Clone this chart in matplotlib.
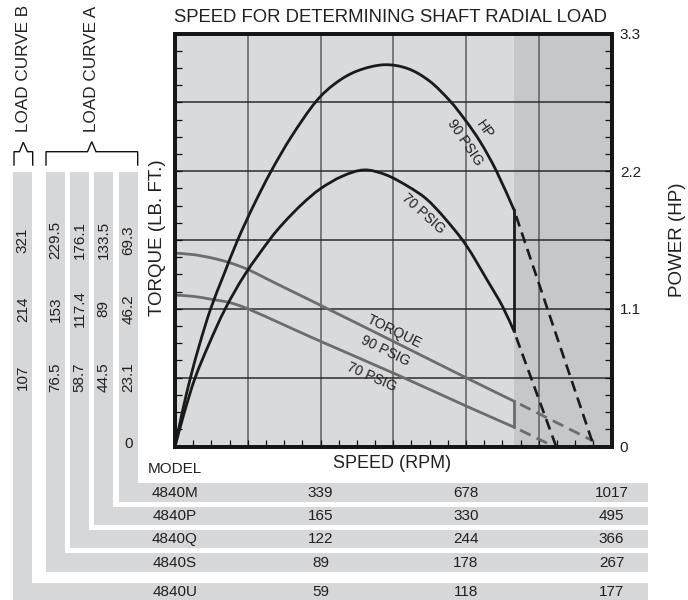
import numpy as np
import matplotlib
matplotlib.use('Agg')
import matplotlib.pyplot as plt
from matplotlib import transforms
from matplotlib.patches import Rectangle, PathPatch
from matplotlib.path import Path
from matplotlib.ticker import MultipleLocator, FixedLocator

plt.rcParams['font.family'] = ['Liberation Sans', 'DejaVu Sans']

# ---------------- data ----------------
title = "SPEED FOR DETERMINING SHAFT RADIAL LOAD"
speed_max = 1017          # 4840M rpm at right edge
speed_step = 169.5        # rpm per grid column (4840M)
torque_step = 23.1        # lb.ft per grid row (4840M)
hp_max = 3.3
hp_ticks = [0, 1.1, 2.2, 3.3]
hp_tick_labels = ['0', '1.1', '2.2', '3.3']

hp90_speed = [0, 17, 36, 58, 83, 114, 146, 183, 224, 271, 327, 373, 424, 486, 542, 593, 641, 678, 712, 749, 790]
hp90_hp = [0, 0.275, 0.55, 0.825, 1.10, 1.375, 1.65, 1.925, 2.20, 2.475, 2.75, 2.90, 3.00, 3.05, 3.02, 2.92, 2.76, 2.60, 2.43, 2.20, 1.89]
hp70_speed = [0, 22, 47, 80, 117, 163, 220, 254, 297, 339, 390, 441, 492, 542, 585, 627, 678, 729, 763, 790]
hp70_hp = [0, 0.275, 0.55, 0.825, 1.10, 1.375, 1.65, 1.79, 1.94, 2.06, 2.16, 2.21, 2.17, 2.08, 1.98, 1.83, 1.61, 1.32, 1.12, 0.92]
tq90_speed = [0, 42, 85, 127, 170, 212, 254, 339, 514, 678, 790]
tq90 = [64.9, 64.4, 63.3, 61.7, 59.4, 56.4, 53.4, 47.4, 34.9, 23.1, 15.2]
tq70_speed = [0, 42, 85, 127, 170, 254, 339, 514, 678, 790]
tq70 = [50.8, 50.4, 49.4, 48.3, 46.2, 40.8, 35.3, 24.3, 13.6, 6.5]

hp90_ext_speed = [790, 976]
hp90_ext = [1.89, 0.0]
hp70_ext_speed = [790, 888]
hp70_ext = [0.92, 0.0]
tq90_ext_speed = [790, 975]
tq90_ext = [15.2, 1.8]
tq70_ext_speed = [790, 873]
tq70_ext = [6.5, 0.7]
shade_start = 790

models = ['4840M', '4840P', '4840Q', '4840S', '4840U']
model_speeds = [[339, 678, 1017], [165, 330, 495], [122, 244, 366], [89, 178, 267], [59, 118, 177]]
model_torques = [[23.1, 46.2, 69.3], [44.5, 89, 133.5], [58.7, 117.4, 176.1], [76.5, 153, 229.5], [107, 214, 321]]
table_positions = [0, 339, 678, 1017]   # speed-axis positions of table columns


def smooth_path(xs, ys):
    """Bezier path passing through every read point (Catmull-Rom tangents)."""
    pts = np.column_stack([xs, ys]).astype(float)
    n = len(pts)
    verts = [pts[0]]
    codes = [Path.MOVETO]
    for i in range(n - 1):
        p0 = pts[i - 1] if i > 0 else pts[i]
        p1 = pts[i]
        p2 = pts[i + 1]
        p3 = pts[i + 2] if i + 2 < n else pts[i + 1]
        verts += [p1 + (p2 - p0) / 6.0, p2 - (p3 - p1) / 6.0, p2]
        codes += [Path.CURVE4] * 3
    return Path(verts, codes)


# ---------------- layout ----------------
W, H = 688, 600
fig = plt.figure(figsize=(W / 100, H / 100), dpi=100)
fig.patch.set_facecolor('white')

ov = fig.add_axes([0, 0, 1, 1])
ov.set_xlim(0, W)
ov.set_ylim(H, 0)
ov.axis('off')
ov.set_zorder(0)

L, R, T, B = 175, 611.5, 33.5, 446.5
ax = fig.add_axes([L / W, 1 - B / H, (R - L) / W, (B - T) / H])
ax.set_zorder(1)
ax2 = ax.twinx()
ax2.set_zorder(2)
ax2.patch.set_visible(False)

txt = '#231f20'
strip_col = '#d6d7d9'

# strips (L-shaped bands): x0, x1 of vertical strip, y0, y1 of row
strip_geo = [(119, 137.7, 483.3, 502.3),
             (94.3, 113.3, 506.7, 525.0),
             (70.0, 89.3, 530.0, 548.3),
             (46.0, 65.0, 553.3, 572.3),
             (13.3, 32.3, 583.3, 600.0)]
strip_top = 171.7
row_right = 648
for (x0, x1, y0, y1) in strip_geo:
    ov.add_patch(Rectangle((x0, strip_top), x1 - x0, y1 - strip_top, color=strip_col, lw=0))
    ov.add_patch(Rectangle((x0, y0), row_right - x0, y1 - y0, color=strip_col, lw=0))

# ---------------- main chart ----------------
ax.set_xlim(0, speed_max)
ax.set_ylim(0, 6 * torque_step)
ax2.set_ylim(0, hp_max)
ax.set_facecolor('#d9dadc')
ax.axvspan(shade_start, speed_max, color='#c6c7c9', zorder=0.3, lw=0)
ax.set_axisbelow(True)

ax.xaxis.set_major_locator(MultipleLocator(speed_step))
ax.xaxis.set_minor_locator(MultipleLocator(speed_step / 4))
ax.yaxis.set_major_locator(MultipleLocator(torque_step))
ax.yaxis.set_minor_locator(MultipleLocator(torque_step / 4))
ax.grid(which='major', axis='x', color='#5e5e5e', lw=1.1)
ax.grid(which='major', axis='y', color='#2c2c2c', lw=1.1)
ax.tick_params(which='both', direction='in', length=5, width=0.9, color='#111',
               labelbottom=False, labelleft=False, top=False, right=False)

ax2.yaxis.set_major_locator(FixedLocator(hp_ticks))
ax2.set_yticklabels(hp_tick_labels)
ax2.yaxis.set_minor_locator(MultipleLocator(hp_max / 24))
ax2.tick_params(which='both', direction='in', length=5, width=0.9, color='#111',
                labelsize=11, labelcolor=txt, pad=6)

for a in (ax, ax2):
    for s in a.spines.values():
        s.set_linewidth(2.7)
        s.set_color('#151515')

blk = '#1a1a1a'
gry = '#6c6c6c'
dash = (4.2, (4.2, 2.4))
ax.add_patch(PathPatch(smooth_path(tq90_speed, tq90), fill=False, edgecolor=gry, lw=2.0, zorder=2))
ax.add_patch(PathPatch(smooth_path(tq70_speed, tq70), fill=False, edgecolor=gry, lw=2.0, zorder=2))
ax.plot([tq90_speed[-1], tq70_speed[-1]], [tq90[-1], tq70[-1]], color=gry, lw=2.0, zorder=2)
ax.plot(tq90_ext_speed, tq90_ext, color=gry, lw=2.0, ls=dash, zorder=2)
ax.plot(tq70_ext_speed, tq70_ext, color=gry, lw=2.0, ls=dash, zorder=2)

ax2.add_patch(PathPatch(smooth_path(hp90_speed, hp90_hp), fill=False, edgecolor=blk, lw=2.0, capstyle='butt'))
ax2.add_patch(PathPatch(smooth_path(hp70_speed, hp70_hp), fill=False, edgecolor=blk, lw=2.0, capstyle='butt'))
ax2.plot([hp90_speed[-1], hp70_speed[-1]], [hp90_hp[-1], hp70_hp[-1]], color=blk, lw=2.0)
ax2.plot(hp90_ext_speed, hp90_ext, color=blk, lw=1.9, ls=dash)
ax2.plot(hp70_ext_speed, hp70_ext, color=blk, lw=1.9, ls=dash)

lab_kw = dict(ha='center', va='center', rotation_mode='anchor', fontsize=10, color=txt)
ax.text(722, 106.3, 'HP', rotation=-55, **lab_kw)
ax.text(676, 101.9, '90 PSIG', rotation=-56, **lab_kw)
ax.text(578, 78.3, '70 PSIG', rotation=-42, **lab_kw)
ax.text(510, 38.5, 'TORQUE', rotation=-26, **lab_kw)
ax.text(489, 32.1, '90 PSIG', rotation=-26, **lab_kw)
ax.text(458, 23.4, '70 PSIG', rotation=-24, **lab_kw)

# ---------------- texts ----------------
fig.text(390 / W, 1 - 18 / H, title, ha='center', va='center', fontsize=13.3, color=txt)
ov.text(392, 464, 'SPEED (RPM)', ha='center', va='center', fontsize=13, color=txt)
ov.text(157, 238, 'TORQUE (LB. FT.)', ha='center', va='center', rotation=90, fontsize=13.5, color=txt)
ov.text(677, 240, 'POWER (HP)', ha='center', va='center', rotation=90, fontsize=13.5, color=txt)

# strip labels, positioned on torque grid rows
tr_strip = transforms.blended_transform_factory(ov.transData, ax.transData)
for (x0, x1, y0, y1), vals in zip(strip_geo, model_torques):
    xc = (x0 + x1) / 2
    for k, v in enumerate(vals, start=1):
        ov.text(xc, k * torque_step, f'{v:g}', transform=tr_strip, rotation=90,
                ha='center', va='center', fontsize=11, color=txt)
x0, x1 = strip_geo[0][0], strip_geo[0][1]
ov.text((x0 + x1) / 2, 0, '0', transform=transforms.offset_copy(tr_strip, fig=fig, y=3, units='dots'),
        ha='center', va='center', fontsize=11, color=txt)

# brackets
bk = dict(color='#111', lw=1.0, solid_joinstyle='miter')
ov.plot([14, 14, 19.5, 23.3, 27.5, 32.7, 32.7], [165, 151.7, 151.7, 142.3, 151.7, 151.7, 165], **bk)
ov.plot([46, 46, 87.5, 91.7, 96, 137.7, 137.7], [165, 151.7, 151.7, 141.7, 151.7, 151.7, 165], **bk)
ov.text(24, 132, 'LOAD CURVE B', rotation=90, ha='center', va='bottom', fontsize=12.3, color=txt)
ov.text(91.5, 132, 'LOAD CURVE A', rotation=90, ha='center', va='bottom', fontsize=12.3, color=txt)

# table
tr_tab = transforms.blended_transform_factory(ax.transData, ov.transData)
ov.text(table_positions[0], 469, 'MODEL', transform=tr_tab, ha='center', va='center', fontsize=11, color=txt)
for (x0, x1, y0, y1), name, sp in zip(strip_geo, models, model_speeds):
    yc = (y0 + y1) / 2
    ov.text(table_positions[0], yc, name, transform=tr_tab, ha='center', va='center', fontsize=11, color=txt)
    for pos, v in zip(table_positions[1:], sp):
        ov.text(pos, yc, str(v), transform=tr_tab, ha='center', va='center', fontsize=11, color=txt)

fig.savefig('out.png', dpi=100, facecolor='white')
